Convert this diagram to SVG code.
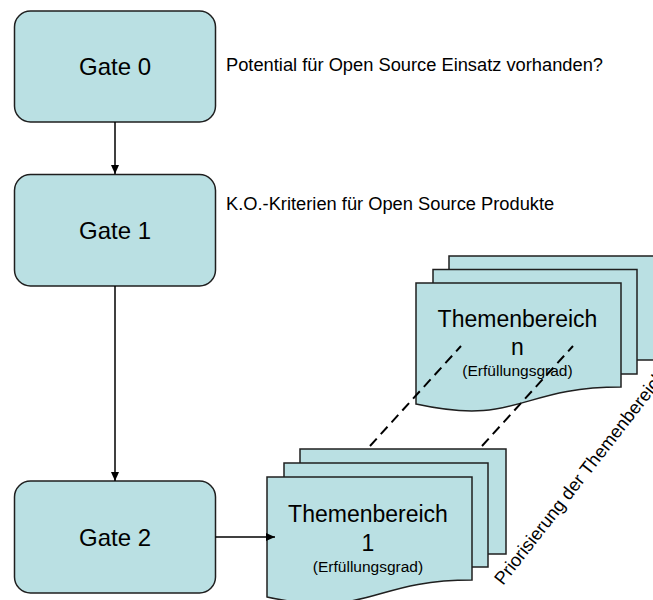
<svg xmlns="http://www.w3.org/2000/svg" width="653" height="600" viewBox="0 0 653 600">
  <defs>
    <style>
      .box { fill: #BAE0E3; stroke: #1f1f1f; stroke-width: 1.5; }
      .page { fill: #BAE0E3; stroke: #1f1f1f; stroke-width: 1.5; }
      .gate-label { font-family: "Liberation Sans", Arial, sans-serif; font-size: 24px; fill: #000; text-anchor: middle; }
      .note { font-family: "Liberation Sans", Arial, sans-serif; font-size: 18.3px; fill: #000; }
      .doc-title { font-family: "Liberation Sans", Arial, sans-serif; font-size: 23px; fill: #000; text-anchor: middle; }
      .doc-sub { font-family: "Liberation Sans", Arial, sans-serif; font-size: 15.5px; fill: #000; text-anchor: middle; }
      .link { fill: none; stroke: #000; stroke-width: 1.5; }
      .dashed { fill: none; stroke: #000; stroke-width: 2; stroke-dasharray: 10 6; }
    </style>
    <marker id="arrow" markerUnits="userSpaceOnUse" markerWidth="10" markerHeight="9" refX="9" refY="4" orient="auto">
      <path d="M0,0 L9,4 L0,8 Z" fill="#000"/>
    </marker>
  </defs>

  <rect width="653" height="600" fill="#fff"/>

  <!-- Gates -->
  <g id="gate0">
    <rect class="box" x="14.5" y="11" width="201" height="111" rx="16" ry="16"/>
    <text class="gate-label" x="115" y="75">Gate 0</text>
  </g>
  <g id="gate1">
    <rect class="box" x="14.5" y="174.5" width="201" height="111.5" rx="16" ry="16"/>
    <text class="gate-label" x="115" y="239">Gate 1</text>
  </g>
  <g id="gate2">
    <rect class="box" x="14.5" y="481" width="201" height="112" rx="16" ry="16"/>
    <text class="gate-label" x="115" y="545.5">Gate 2</text>
  </g>

  <!-- Gate annotations -->
  <g id="notes">
    <text class="note" x="226" y="71">Potential für Open Source Einsatz vorhanden?</text>
    <text class="note" x="226" y="210">K.O.-Kriterien für Open Source Produkte</text>
    <text class="note" transform="translate(503,586) rotate(-52)">Priorisierung der Themenbereiche</text>
  </g>

  <!-- Topic stack n (upper) -->
  <g id="topic-n">
    <rect class="page" x="449" y="256" width="206" height="104"/>
    <rect class="page" x="433" y="269.5" width="204" height="104.5"/>
    <path class="page" d="M416,283 H621 V387 C518.5,387 518.5,426.6 416,404.1 Z"/>
    <text class="doc-title" x="517.5" y="327">Themenbereich</text>
    <text class="doc-title" x="517.5" y="355">n</text>
    <text class="doc-sub" x="517.5" y="376">(Erfüllungsgrad)</text>
  </g>

  <!-- Topic stack 1 (lower) -->
  <g id="topic-1">
    <rect class="page" x="300" y="449" width="206" height="105"/>
    <rect class="page" x="284" y="463" width="204" height="104"/>
    <path class="page" d="M267,477 H472 V580 C369.5,580 369.5,619.2 267,597 Z"/>
    <text class="doc-title" x="368" y="522">Themenbereich</text>
    <text class="doc-title" x="368" y="551">1</text>
    <text class="doc-sub" x="368" y="572">(Erfüllungsgrad)</text>
  </g>

  <!-- Connectors -->
  <g id="connectors">
    <line class="link" x1="115" y1="122" x2="115" y2="174" marker-end="url(#arrow)"/>
    <line class="link" x1="115" y1="286" x2="115" y2="481" marker-end="url(#arrow)"/>
    <line class="link" x1="215.5" y1="537" x2="275" y2="537" marker-end="url(#arrow)"/>
    <line class="dashed" x1="370" y1="446" x2="461" y2="346"/>
    <line class="dashed" x1="482" y1="446" x2="573" y2="346"/>
  </g>
</svg>
